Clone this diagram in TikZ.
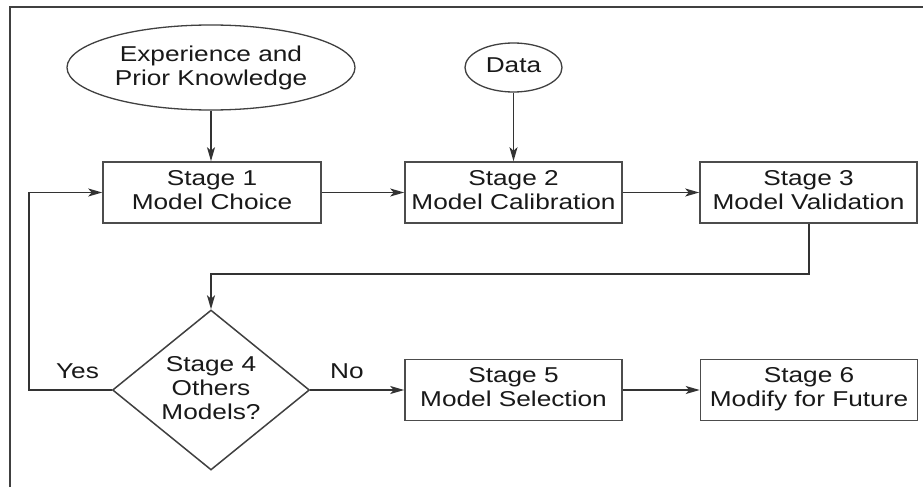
\documentclass[tikz,border=0pt]{standalone}
\usepackage{fontspec}
\usepackage{graphicx}
\setmainfont{Liberation Sans}
\usetikzlibrary{shapes.geometric,arrows.meta}
\newcommand{\lbl}[1]{\scalebox{1.22}[1]{\begin{tabular}{@{}c@{}}#1\end{tabular}}}
\begin{document}
\begin{tikzpicture}[x=1pt,y=-1pt,
  every node/.style={font=\fontsize{21.5}{24}\selectfont, text=black!90},
  stagebox/.style={draw=black!70, line width=1.6pt, rectangle, minimum width=217pt, minimum height=61pt, inner sep=0pt},
  oval/.style={draw=black!75, line width=1.3pt, ellipse, inner sep=0pt},
  conn/.style={draw=black!80, line width=1.6pt},
  arr/.style={conn, -{Stealth[length=14pt,width=8pt,inset=3.5pt]}},
  plain/.style={inner sep=0pt}]
\useasboundingbox (0,0) rectangle (923,487);
\fill[white] (0,0) rectangle (923,487);
% frame
\coordinate (fbl) at (10,487);
\coordinate (ftl) at (10,7);
\coordinate (ftr) at (923,7);
\draw[draw=black!75, line width=1.6pt] (fbl) -- (ftl) -- (ftr);
% nodes
\node[oval, minimum width=288pt, minimum height=85pt] (exp) at (211,67.5) {};
\node[plain] at (211,68.5) {\lbl{Experience and\\Prior Knowledge}};
\node[oval, minimum width=97pt, minimum height=49pt] (data) at (513.5,67.5) {};
\node[plain] at (data) {\lbl{Data}};
\node[stagebox, minimum width=218pt] (s1) at (212,192.5) {\lbl{Stage 1\\Model Choice}};
\node[stagebox] (s2) at (513.5,192.5) {\lbl{Stage 2\\Model Calibration}};
\node[stagebox] (s3) at (808.5,192.5) {\lbl{Stage 3\\Model Validation}};
\node[draw=black!75, line width=1.5pt, diamond, minimum width=197pt, minimum height=160pt, inner sep=0pt] (s4) at (211,390) {};
\node[plain] at (211,391) {\lbl{Stage 4\\Others\\Models?}};
\node[stagebox] (s5) at (513.5,390) {\lbl{Stage 5\\Model Selection}};
\node[stagebox] (s6) at (809,390) {\lbl{Stage 6\\Modify for Future}};
\node[plain] (yes) at (77.5,374) {\lbl{Yes}};
\node[plain] (no) at (347,374) {\lbl{No}};
% connectors
\draw[arr] (exp.south) -- (exp.south |- s1.north);
\draw[arr] (data.south) -- (data.south |- s2.north);
\draw[arr] (s1) -- (s2);
\draw[arr] (s2) -- (s3);
\coordinate (turn) at (809,274);
\draw[arr] (s3.south -| turn) -- (turn) -- (turn -| s4.north) -- (s4.north);
\coordinate (back) at (29,390);
\draw[arr] (s4.west) -- (back) -- (back |- s1.west) -- (s1.west);
\draw[arr] (s4.east) -- (s5.west);
\draw[arr] (s5) -- (s6);
\end{tikzpicture}
\end{document}
